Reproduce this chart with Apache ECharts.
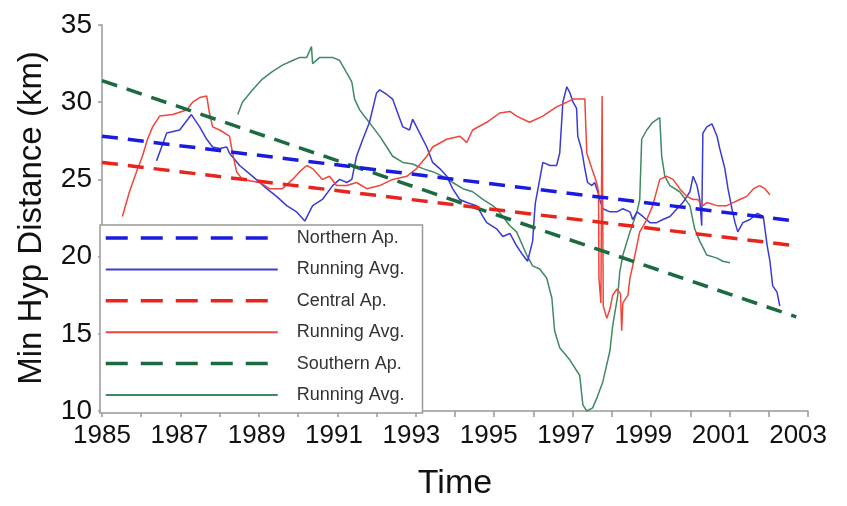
<!DOCTYPE html>
<html>
<head>
<meta charset="utf-8">
<script src="https://cdn.jsdelivr.net/npm/echarts@6/dist/echarts.min.js"></script>
<style>html,body{margin:0;padding:0;background:#fff}#c{width:847px;height:506px}</style>
</head>
<body>
<div id="c"></div>
<script>
// Tick labels (odd years shown)
const xTickYears = [1985,1987,1989,1991,1993,1995,1997,1999,2001,2003];
const yTicks = [10,15,20,25,30,35];

// Linear trend lines (start / end)
const trendYears = [1985, 2002.7];
const northTrend = [27.8, 22.3];
const centralTrend = [26.1, 20.7];
const southTrend = [31.4, 16.1];

// Northern running average
const northYears = [1986.39,1986.65,1986.98,1987.28,1987.49,1987.67,1987.82,1988.00,1988.18,1988.25,1988.51,1988.84,1989.20,1989.45,1989.71,1989.96,1990.17,1990.37,1990.62,1990.88,1991.06,1991.24,1991.37,1991.49,1991.65,1991.82,1992.00,1992.08,1992.26,1992.41,1992.51,1992.67,1992.84,1992.92,1993.10,1993.28,1993.43,1993.61,1993.79,1993.94,1994.12,1994.30,1994.55,1994.71,1994.81,1995.06,1995.22,1995.40,1995.57,1995.73,1995.85,1995.98,1996.03,1996.05,1996.24,1996.42,1996.59,1996.67,1996.75,1996.85,1996.93,1997.01,1997.10,1997.13,1997.23,1997.31,1997.38,1997.49,1997.56,1997.64,1997.69,1997.77,1997.95,1998.13,1998.28,1998.46,1998.53,1998.64,1998.79,1998.97,1999.14,1999.30,1999.48,1999.66,1999.81,1999.99,2000.07,2000.17,2000.24,2000.29,2000.32,2000.42,2000.55,2000.68,2000.75,2000.88,2000.96,2001.06,2001.14,2001.21,2001.34,2001.52,2001.71,2001.86,2001.96,2002.03,2002.10,2002.21,2002.28];
const northVals = [26.2,28.0,28.2,29.2,28.4,27.6,27.1,27.0,27.1,26.7,25.9,25.2,24.4,23.9,23.3,22.9,22.3,23.3,23.7,24.6,25.0,24.8,25.0,26.5,27.6,28.7,30.6,30.8,30.5,30.2,29.5,28.4,28.2,28.9,28.0,27.1,26.1,25.7,25.2,24.4,23.7,23.5,23.3,22.6,22.2,21.8,21.3,21.5,20.7,20.1,19.7,21.0,22.9,23.5,26.1,25.9,25.9,26.7,30.0,31.0,30.6,30.0,29.6,27.8,26.9,25.7,24.8,24.6,24.8,24.2,23.7,23.1,22.9,22.9,23.1,22.9,22.4,22.9,22.6,22.2,22.2,22.4,22.6,23.1,23.5,24.2,25.2,24.6,23.7,22.0,28.0,28.4,28.6,27.8,27.0,25.7,24.4,23.1,22.2,21.6,22.2,22.4,22.8,22.6,20.7,19.7,18.1,17.7,16.8];

// Central running average
const centralYears = [1985.52,1985.70,1985.88,1986.03,1986.16,1986.29,1986.47,1986.80,1987.16,1987.31,1987.49,1987.67,1987.74,1987.82,1988.00,1988.25,1988.33,1988.43,1988.58,1989.02,1989.27,1989.60,1989.86,1990.04,1990.22,1990.37,1990.62,1990.80,1990.98,1991.24,1991.49,1991.75,1992.08,1992.41,1992.77,1993.02,1993.28,1993.43,1993.79,1994.12,1994.30,1994.45,1994.81,1995.14,1995.40,1995.57,1995.90,1996.24,1996.59,1996.85,1997.01,1997.31,1997.36,1997.49,1997.61,1997.66,1997.67,1997.72,1997.75,1997.78,1997.87,1997.95,1998.02,1998.13,1998.22,1998.25,1998.28,1998.41,1998.46,1998.53,1998.71,1998.89,1999.04,1999.22,1999.40,1999.56,1999.73,1999.91,2000.07,2000.19,2000.32,2000.42,2000.68,2000.93,2001.09,2001.26,2001.44,2001.61,2001.77,2001.90,2002.03];
const centralVals = [22.6,24.2,25.5,26.5,27.6,28.4,29.1,29.2,29.5,30.0,30.3,30.4,29.3,28.4,28.2,27.8,26.7,25.5,25.0,24.8,24.4,24.4,25.0,25.5,25.9,25.7,25.0,25.2,24.6,24.6,24.8,24.4,24.6,25.0,25.2,25.7,26.5,27.1,27.6,27.8,27.4,28.2,28.7,29.3,29.4,29.1,28.7,29.1,29.7,30.0,30.2,30.2,26.7,25.7,24.8,24.2,18.6,17.0,30.4,16.8,16.0,16.6,17.5,17.9,17.6,15.2,17.0,17.5,18.6,19.4,21.6,22.4,23.3,25.0,25.2,25.0,24.4,23.9,23.7,23.7,23.3,23.5,23.3,23.3,23.5,23.7,23.9,24.4,24.6,24.4,24.0];

// Southern running average
const southYears = [1988.46,1988.58,1988.84,1989.09,1989.35,1989.60,1989.86,1990.04,1990.22,1990.34,1990.37,1990.55,1990.88,1991.06,1991.24,1991.37,1991.44,1991.57,1991.75,1991.90,1992.08,1992.26,1992.41,1992.67,1992.92,1993.18,1993.43,1993.69,1993.94,1994.20,1994.45,1994.71,1994.96,1995.06,1995.22,1995.40,1995.57,1995.83,1995.98,1996.16,1996.34,1996.47,1996.54,1996.67,1996.93,1997.18,1997.26,1997.36,1997.51,1997.61,1997.77,1997.95,1998.02,1998.15,1998.20,1998.28,1998.46,1998.64,1998.71,1998.76,1998.89,1999.04,1999.22,1999.27,1999.35,1999.48,1999.73,1999.99,2000.11,2000.24,2000.42,2000.68,2000.83,2001.01];
const southVals = [29.2,30.0,30.8,31.5,32.0,32.4,32.7,32.9,32.9,33.6,32.5,32.9,32.9,32.7,31.9,31.3,30.2,29.5,28.9,28.4,27.8,27.1,26.5,26.1,26.0,25.7,25.5,25.2,24.8,24.4,24.2,23.7,23.3,23.1,22.6,22.0,21.6,20.1,19.4,19.2,18.6,17.3,15.2,14.1,13.3,12.3,10.4,10.0,10.2,10.8,11.9,13.9,15.5,17.5,19.0,20.1,21.6,22.9,23.7,27.6,28.2,28.7,29.0,26.5,25.2,24.6,24.2,23.3,21.8,21.0,20.1,19.9,19.7,19.6];

const zip = (xs, ys) => xs.map((x, i) => [x, ys[i]]);

const C = {
  nD: '#1a1ae0', nS: '#3a3ad6',
  cD: '#e8251d', cS: '#f0453a',
  sD: '#1c6a40', sS: '#3f8a62'
};

function dashed(name, ys, color) {
  return { name, type: 'line', data: zip(trendYears, ys), symbol: 'none', z: 3,
    lineStyle: { color, width: 3.5, type: [16, 10] }, itemStyle: { color } };
}
function solid(name, xs, ys, color) {
  return { name, type: 'line', data: zip(xs, ys), symbol: 'none', z: 2,
    lineStyle: { color, width: 1.5 }, itemStyle: { color } };
}

// small per-label left shifts of the x tick labels (layout only)
const xRich = {};
xTickYears.forEach((y, i) => {
  xRich['s' + i] = { fontSize: 26, color: '#111', fontFamily: 'Liberation Sans', padding: [0, i * 2.2, 0, 0] };
});

const chart = echarts.init(document.getElementById('c'), null, { renderer: 'canvas' });
chart.setOption({
  animation: false,
  backgroundColor: '#fff',
  grid: { left: 102, right: 39, top: 25, bottom: 93 },
  xAxis: {
    type: 'value', min: 1985, max: 2003, interval: 1,
    name: 'Time', nameLocation: 'middle', nameGap: 56,
    nameTextStyle: { fontSize: 34, color: '#111', fontFamily: 'Liberation Sans' },
    axisLine: { onZero: false, lineStyle: { color: '#999', width: 1.5 } },
    axisTick: { length: 6, lineStyle: { color: '#999', width: 1.5 } },
    splitLine: { show: false },
    axisLabel: { fontSize: 26, color: '#111', fontFamily: 'Liberation Sans', margin: 12, rich: xRich,
      formatter: v => {
        const r = Math.round(v);
        const i = xTickYears.indexOf(r);
        return (i >= 0 && Math.abs(v - r) < 1e-6) ? '{s' + i + '|' + r + '}' : '';
      } }
  },
  yAxis: {
    type: 'value', min: 10, max: 35, interval: 5,
    name: 'Min Hyp Distance (km)', nameLocation: 'middle', nameGap: 54,
    nameTextStyle: { fontSize: 33, color: '#111', fontFamily: 'Liberation Sans' },
    axisLine: { show: true, onZero: false, lineStyle: { color: '#999', width: 1.5 } },
    axisTick: { show: true, length: 4, lineStyle: { color: '#999', width: 1.5 } },
    splitLine: { show: false },
    axisLabel: { fontSize: 28, color: '#111', fontFamily: 'Liberation Sans', margin: 10,
      formatter: v => yTicks.indexOf(v) >= 0 ? String(v) : '' }
  },
  legend: {
    orient: 'vertical', left: 100, top: 225,
    padding: [4, 18, 9, 4],
    itemWidth: 172, itemHeight: 18, itemGap: 13.4,
    backgroundColor: '#fff', borderColor: '#999', borderWidth: 1.5, borderRadius: 0,
    itemStyle: { opacity: 0 },
    textStyle: { fontSize: 18, color: '#333', fontFamily: 'Liberation Sans', padding: [0, 0, 0, 14] },
    formatter: name => name.indexOf('Running Avg.') === 0 ? 'Running Avg.' : name,
    data: [
      { name: 'Northern Ap.', lineStyle: { type: [22, 13], width: 3.5 } },
      { name: 'Running Avg. N' },
      { name: 'Central Ap.', lineStyle: { type: [22, 13], width: 3.5 } },
      { name: 'Running Avg. C' },
      { name: 'Southern Ap.', lineStyle: { type: [22, 13], width: 3.5 } },
      { name: 'Running Avg. S' }
    ],
    selectedMode: false
  },
  series: [
    solid('Running Avg. S', southYears, southVals, C.sS),
    solid('Running Avg. N', northYears, northVals, C.nS),
    solid('Running Avg. C', centralYears, centralVals, C.cS),
    dashed('Southern Ap.', southTrend, C.sD),
    dashed('Central Ap.', centralTrend, C.cD),
    dashed('Northern Ap.', northTrend, C.nD)
  ]
});
</script>
</body>
</html>
